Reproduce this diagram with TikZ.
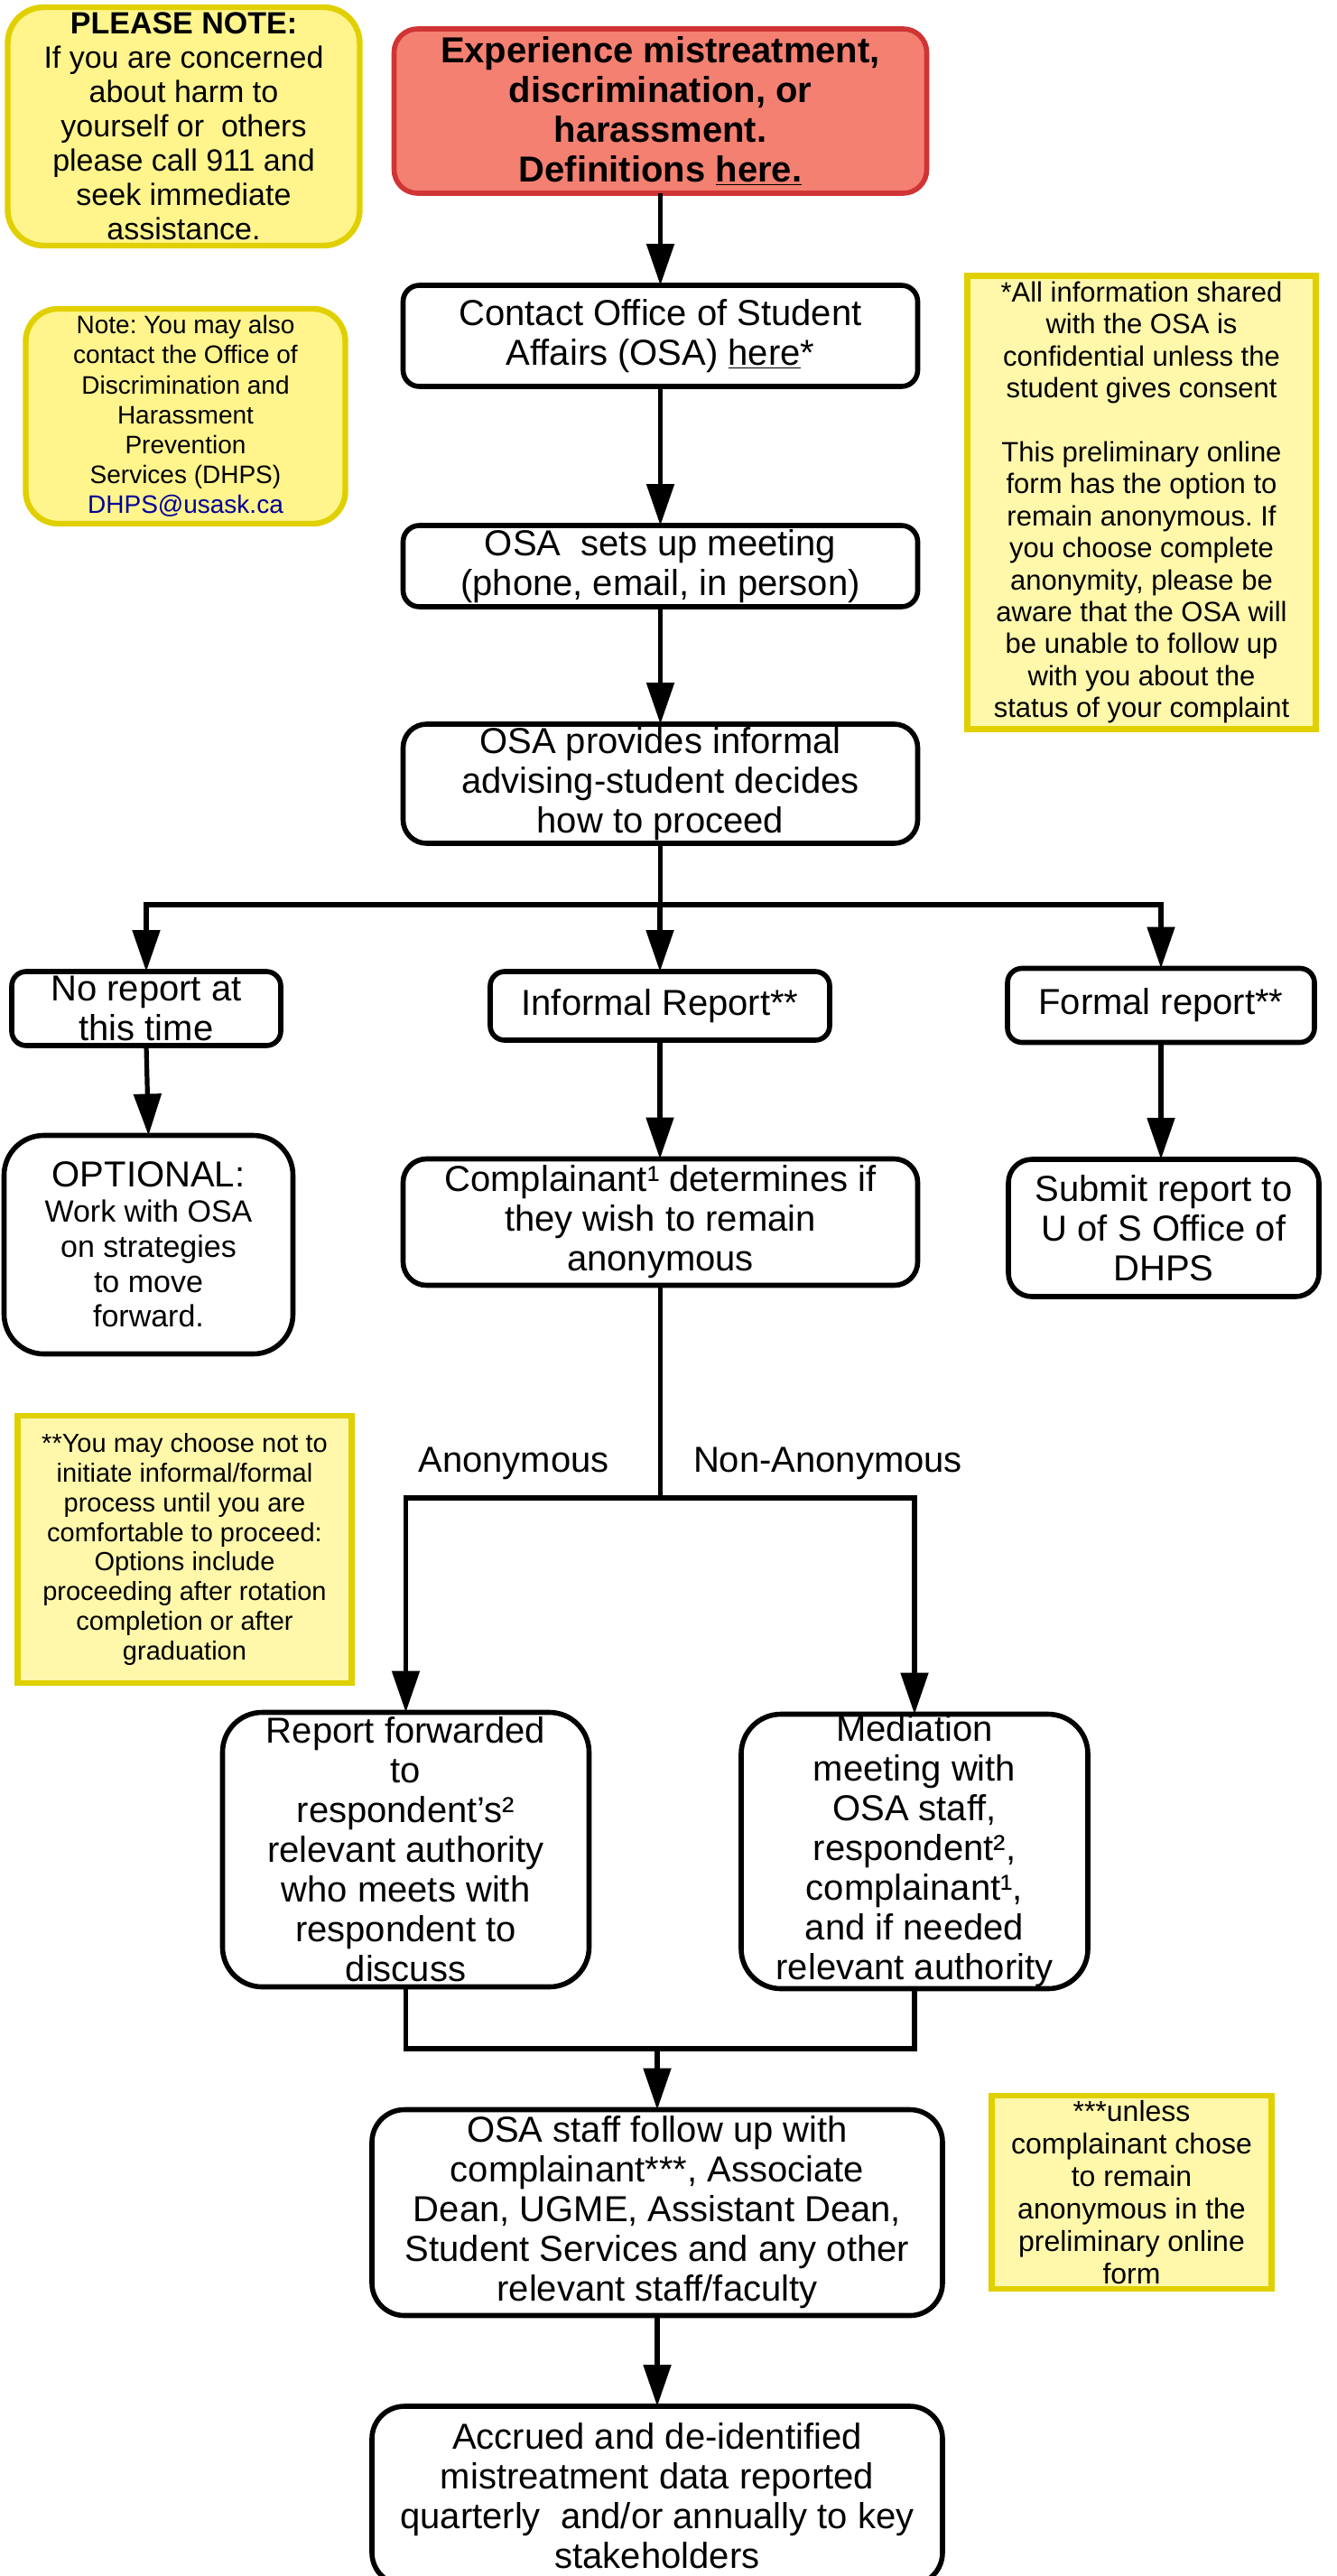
\documentclass[tikz,border=0pt]{standalone}
\usepackage{fontspec}
\setmainfont{Liberation Sans}
\usetikzlibrary{arrows.meta}
\frenchspacing
\definecolor{redfill}{RGB}{244,128,114}
\definecolor{redline}{RGB}{208,52,52}
\definecolor{yfill}{RGB}{255,245,140}
\definecolor{yfilllight}{RGB}{255,248,170}
\definecolor{yline}{RGB}{224,208,0}
\definecolor{emailblue}{RGB}{0,0,153}
\begin{document}
\begin{tikzpicture}[x=1pt,y=-1pt,
 base/.style={align=center, inner sep=0pt, outer sep=0pt},
 flow/.style={base, draw=black, line width=2.8pt, fill=white, font=\fontsize{20}{22}\selectfont},
 note/.style={base, draw=yline, line width=3.2pt, fill=yfill},
 noterect/.style={base, draw=yline, line width=3.2pt, fill=yfilllight},
 conn/.style={line width=2.6pt, draw=black},
 arr/.style={conn, -{Triangle[length=23pt,width=15pt]}},
 lbl/.style={base, font=\fontsize{20}{22}\selectfont},
]
\useasboundingbox (0,0) rectangle (740.5,1426.5);

% yellow notes
\node[note, rounded corners=20pt, minimum width=195pt, minimum height=132pt,
  font=\fontsize{17}{19}\selectfont] (please) at (101.75,70)
  {\textbf{PLEASE NOTE:}\\If you are concerned\\about harm to\\yourself or\ \ others\\please call 911 and\\seek immediate\\assistance.};

\node[note, rounded corners=18pt, minimum width=177pt, minimum height=119pt,
  font=\fontsize{14}{16.6}\selectfont] (alsonote) at (102.75,230.5)
  {Note: You may also\\contact the Office of\\Discrimination and\\Harassment\\Prevention\\Services (DHPS)\\{\color{emailblue}DHPS@usask.ca}};

\node[noterect, minimum width=193pt, minimum height=251pt,
  font=\fontsize{15.5}{17.7}\selectfont] (confnote) at (632.25,278.25)
  {*All information shared\\with the OSA is\\confidential unless the\\student gives consent\\[17.7pt]This preliminary online\\form has the option to\\remain anonymous. If\\you choose complete\\anonymity, please be\\aware that the OSA will\\be unable to follow up\\with you about the\\status of your complaint};

\node[noterect, minimum width=185pt, minimum height=148pt,
  font=\fontsize{14.5}{16.4}\selectfont] (maynote) at (102.25,858)
  {**You may choose not to\\initiate informal/formal\\process until you are\\comfortable to proceed:\\Options include\\proceeding after rotation\\completion or after\\graduation};

\node[noterect, minimum width=155pt, minimum height=107pt,
  font=\fontsize{16}{18}\selectfont] (unlessnote) at (626.75,1214)
  {***unless\\complainant chose\\to remain\\anonymous in the\\preliminary online\\form};

% flow boxes
\node[flow, draw=redline, fill=redfill, rounded corners=13pt, minimum width=295pt, minimum height=91pt,
  font=\bfseries\fontsize{20}{22}\selectfont] (start) at (365.75,61.5)
  {Experience mistreatment,\\discrimination, or\\harassment.\\Definitions \underline{here.}};

\node[flow, rounded corners=9pt, minimum width=285pt, minimum height=56pt] (contact) at (365.75,186)
  {Contact Office of Student\\Affairs (OSA) \underline{here}*};

\node[flow, rounded corners=9pt, minimum width=285pt, minimum height=45pt] (meeting) at (365.75,313.5)
  {OSA\ \ sets up meeting\\(phone, email, in person)};

\node[flow, rounded corners=13pt, minimum width=285pt, minimum height=66pt] (advise) at (365.75,434)
  {OSA provides informal\\advising-student decides\\how to proceed};

\node[flow, rounded corners=8pt, minimum width=149pt, minimum height=41pt] (norep) at (81,558.5)
  {No report at\\this time};
\node[flow, rounded corners=8pt, minimum width=188pt, minimum height=38pt] (informal) at (365.5,557)
  {Informal Report**};
\node[flow, rounded corners=8pt, minimum width=170pt, minimum height=41pt] (formal) at (643,556.75)
  {Formal report**};

\node[flow, rounded corners=22pt, minimum width=160pt, minimum height=121pt,
  font=\fontsize{17}{19.4}\selectfont] (optional) at (82.25,689.25)
  {{\fontsize{20}{22}\selectfont OPTIONAL:}\\Work with OSA\\on strategies\\to move\\forward.};

\node[flow, rounded corners=13pt, minimum width=285pt, minimum height=70pt] (decide) at (365.75,676.75)
  {Complainant¹ determines if\\they wish to remain\\anonymous};

\node[flow, rounded corners=13pt, minimum width=172pt, minimum height=76pt] (submit) at (644.5,680)
  {Submit report to\\U of S Office of\\DHPS};

\node[flow, rounded corners=22pt, minimum width=203pt, minimum height=152pt] (forward) at (224.75,1024.25)
  {Report forwarded\\to\\respondent’s²\\relevant authority\\who meets with\\respondent to\\discuss};

\node[flow, rounded corners=22pt, minimum width=192pt, minimum height=152pt] (mediate) at (506.5,1025.25)
  {Mediation\\meeting with\\OSA staff,\\respondent²,\\complainant¹,\\and if needed\\relevant authority};

\node[flow, rounded corners=18pt, minimum width=316pt, minimum height=114pt] (followup) at (364,1225.25)
  {OSA staff follow up with\\complainant***, Associate\\Dean, UGME, Assistant Dean,\\Student Services and any other\\relevant staff/faculty};

\node[flow, rounded corners=18pt, minimum width=316pt, minimum height=99pt] (accrued) at (364,1382)
  {Accrued and de-identified\\mistreatment data reported\\quarterly\ \ and/or annually to key\\stakeholders};

% labels
\node[lbl] (anonlbl) at (284.5,810.5) {Anonymous};
\node[lbl] (nonanonlbl) at (458.5,810.5) {Non-Anonymous};

% connectors
\coordinate (split) at (365.75,501);
\coordinate (split2) at (365.75,829.5);
\coordinate (merge) at (364,1134.5);

\draw[arr] (start.south) -- (contact.north);
\draw[arr] (contact.south) -- (meeting.north);
\draw[arr] (meeting.south) -- (advise.north);
\draw[conn] (advise.south) -- (split);
\draw[arr] (split) -| (norep.north);
\draw[arr] (split) -- (split -| informal.north) -- (informal.north);
\draw[arr] (split) -| (formal.north);
\draw[arr] (norep.south) -- (optional.north);
\draw[arr] (informal.south) -- (informal.south |- decide.north);
\draw[arr] (formal.south) -- (formal.south |- submit.north);
\draw[conn] (decide.south) -- (split2);
\draw[arr] (split2) -| (forward.north);
\draw[arr] (split2) -| (mediate.north);
\draw[conn] (forward.south) |- (merge);
\draw[conn] (mediate.south) |- (merge);
\draw[arr] (merge) -- (followup.north);
\draw[arr] (followup.south) -- (accrued.north);
\end{tikzpicture}
\end{document}
